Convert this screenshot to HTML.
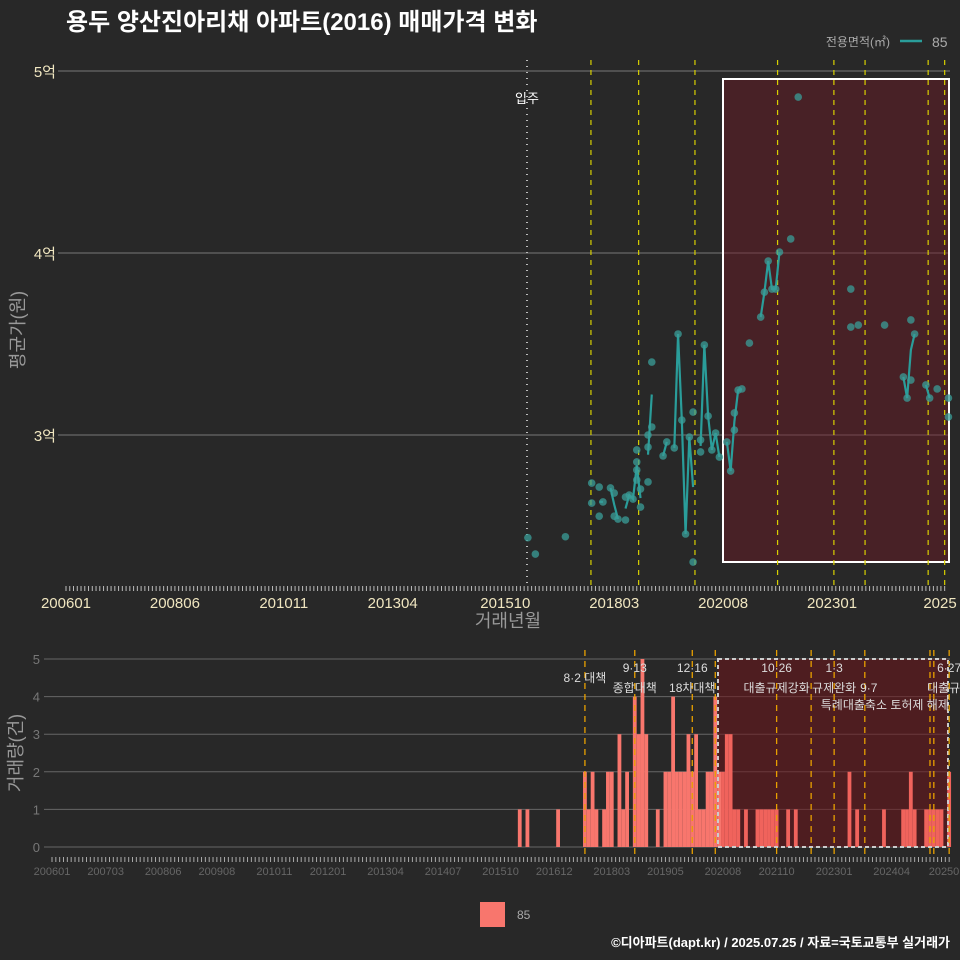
<!DOCTYPE html>
<html><head><meta charset="utf-8">
<style>
html,body{margin:0;padding:0;background:#282828;}
svg{display:block;font-family:"Liberation Sans","Noto Sans CJK KR",sans-serif;}
</style></head>
<body>
<svg id="c" width="960" height="960" viewBox="0 0 960 960" xmlns="http://www.w3.org/2000/svg">
<rect width="960" height="960" fill="#282828"/>
<text x="66" y="30" fill="#ffffff" font-size="24" font-weight="bold">용두 양산진아리채 아파트(2016) 매매가격 변화</text>
<g>
<text x="890" y="46" fill="#aaaaaa" font-size="12" text-anchor="end">전용면적(㎡)</text>
<line x1="900" y1="41" x2="922" y2="41" stroke="#2a9d9a" stroke-width="2.5"/>
<text x="932" y="47" fill="#aaaaaa" font-size="14">85</text>
</g>
<g id="topg"></g>
<g id="botg"></g>
<g>
<rect x="480" y="902" width="25" height="25" fill="#f8766d"/>
<text x="517" y="919" fill="#aaaaaa" font-size="12">85</text>
</g>
<text x="950" y="947" fill="#ffffff" font-size="13" font-weight="bold" text-anchor="end">©디아파트(dapt.kr) / 2025.07.25 / 자료=국토교통부 실거래가</text>
</svg>
<script>
// months since 2006-01, price in 만원
const priceMonths=[123,125,133,140,140,142,142,143,145,146,146,147,149,149,150,151,152,152,152,152,153,153,155,155,155,156,156,159,160,162,163,164,165,166,167,167,169,169,170,171,172,173,174,176,177,178,178,179,180,182,185,186,187,188,189,190,193,195,209,209,211,218,223,224,225,225,226,229,230,232,235,235];
const priceValues=[24360,23460,24410,27360,26260,27140,25540,26320,27090,26810,25540,25380,25330,26590,26700,26480,29180,28520,28080,27530,27030,26040,27420,29340,30000,30440,34010,28850,29620,29290,35550,30820,24560,29890,31260,23020,29730,29070,34950,31040,29180,30110,28790,29620,28020,30270,31210,32470,32530,35050,36480,37850,39560,38020,38020,40050,40770,48570,38020,35930,36040,36040,33190,32030,36320,33020,35550,32750,32030,32530,32030,30990];
const volMonths=[122,124,132,139,140,141,142,144,145,146,148,149,150,152,153,154,155,158,160,161,162,163,164,165,166,167,168,169,170,171,172,173,174,175,176,177,178,179,181,184,185,186,187,188,189,192,194,208,210,217,222,223,224,225,228,229,230,231,232,234];
const volCounts=[1,1,1,2,1,2,1,1,2,2,3,1,2,4,3,5,3,1,2,2,4,2,2,2,3,2,3,1,1,2,2,4,2,2,3,3,1,1,1,1,1,1,1,1,1,1,1,2,1,1,1,1,2,1,1,1,1,1,1,2];
const topTicks=["200601","200806","201011","201304","201510","201803","202008","202301","202506"];
const botTicks=["200601","200703","200806","200908","201011","201201","201304","201407","201510","201612","201803","201905","202008","202110","202301","202404","202507"];
const yTicks=[30000,40000,50000];
const yTickLabels=["3억","4억","5억"];
const volTicks=[0,1,2,3,4,5];
const topPolicy=[139.8,152.5,167.5,189.5,204.5,212.8,229.6,234];
const botPolicy=[139,152,167,173,189,198,204,212,229,230,234];
const policyNames=[[139,"8·2 대책",""],[152,"9·13","종합대책"],[167,"12·16","18차대책"],[189,"10·26","대출규제강화"],[204,"1·3","규제완화"],[212,"9·7","특례대출축소 토허제 해제"],[234,"6·27","대출규제"]];

const NS="http://www.w3.org/2000/svg";
function mk(p,t,a,txt){const e=document.createElementNS(NS,t);for(const k in a)e.setAttribute(k,a[k]);if(txt!=null)e.textContent=txt;p.appendChild(e);return e;}
const mIdx=s=>(parseInt(s.slice(0,4))-2006)*12+parseInt(s.slice(4,6))-1;
const xT=m=>66+m*3.755, yT=v=>435-(v-30000)/10000*182;
const xB=m=>52+m*3.834, yB=c=>847-c*37.6;
const topG=document.getElementById('topg'), botG=document.getElementById('botg');

yTicks.forEach((v,i)=>{
 let g=mk(topG,'line',{x1:58,x2:950,y1:yT(v),y2:yT(v),stroke:'#777','stroke-width':1});
 
 
 let t=mk(topG,'text',{x:56,y:yT(v)+6,fill:'#f0e6c0','font-size':15,'text-anchor':'end'},yTickLabels[i]);
 
 
});
let hr=mk(topG,'rect',{x:723,y:79,width:226,height:483,fill:'rgba(110,25,35,0.45)',stroke:'#fff','stroke-width':2});


let mv=mk(topG,'line',{x1:527,x2:527,y1:60,y2:585,stroke:'#bbb','stroke-width':2,'stroke-dasharray':'1 5'});


let mvt=mk(topG,'text',{x:527,y:103,fill:'#fff','font-size':13,'text-anchor':'middle'},'입주');


topPolicy.forEach(m=>{
 let l=mk(topG,'line',{x1:xT(m),x2:xT(m),y1:60,y2:585,stroke:'#d8d000','stroke-width':1.2,'stroke-dasharray':'5 5'});
 
 
});
for(let m=0;m<=234;m++){
 let t=mk(topG,'line',{x1:xT(m),x2:xT(m),y1:586,y2:591,stroke:'#bbb','stroke-width':1});
 
 
}
topTicks.forEach((s,i)=>{
 let last=i==topTicks.length-1;
 let t=mk(topG,'text',{x:last?940:xT(mIdx(s)),y:608,fill:'#f0e6c0','font-size':15,'text-anchor':'middle'},last?s.slice(0,4):s);
 
 
});
let xt=mk(topG,'text',{x:508,y:627,fill:'#999','font-size':18,'text-anchor':'middle'},'거래년월');


let yt=mk(topG,'text',{x:24,y:330,fill:'#999','font-size':18,'text-anchor':'middle',transform:'rotate(-90 24 330)'},'평균가(원)');


const mm={};
priceMonths.forEach((m,i)=>{(mm[m]=mm[m]||[]).push(priceValues[i]);});
const ms=Object.keys(mm).map(Number).sort((a,b)=>a-b);
let segs=[],cur=[];
ms.forEach((m,i)=>{
 if(cur.length&&m-ms[i-1]>1){segs.push(cur);cur=[];}
 const a=mm[m];cur.push([xT(m),yT(a.reduce((s,v)=>s+v,0)/a.length)]);
});
segs.push(cur);
segs.forEach(s=>{if(s.length<2)return;
 let p=mk(topG,'polyline',{points:s.map(q=>q.join(',')).join(' '),fill:'none',stroke:'#2a9d9a','stroke-width':2.2});
 
 
});
priceMonths.forEach((m,i)=>{
 let c=mk(topG,'circle',{cx:xT(m),cy:yT(priceValues[i]),r:3.8,fill:'#3a9e98','fill-opacity':0.75});
 
 
});

volTicks.forEach(v=>{
 let g=mk(botG,'line',{x1:44,x2:950,y1:yB(v),y2:yB(v),stroke:'#666','stroke-width':1});
 
 
 let t=mk(botG,'text',{x:40,y:yB(v)+5,fill:'#777','font-size':13,'text-anchor':'end'},String(v));
 
 
});
let br=mk(botG,'rect',{x:718,y:659,width:230,height:188,fill:'rgba(110,20,25,0.55)'});


volMonths.forEach((m,i)=>{
 let b=mk(botG,'rect',{x:xB(m)-1.9,y:yB(volCounts[i]),width:3.8,height:volCounts[i]*37.6,fill:m>=175?'#f0635c':'#f8766d'});
 
 
});
let bro=mk(botG,'rect',{x:718,y:659,width:230,height:188,fill:'none',stroke:'#ccc','stroke-width':2,'stroke-dasharray':'4 3'});


botPolicy.forEach(m=>{
 let l=mk(botG,'line',{x1:xB(m),x2:xB(m),y1:650,y2:858,stroke:'#e8a000','stroke-width':1.3,'stroke-dasharray':'6 5'});
 
 
});
policyNames.forEach(([m,a,b],i)=>{
 let x=xB(m);
 let y1=i==0?682:(i==5?692:672), y2=i==5?709:692;
 let t=mk(botG,'text',{x:i==5?x+4:x,y:y1,fill:'#ddd','font-size':12,'text-anchor':'middle'},a);
 
 
 if(b){let t2=mk(botG,'text',{x:i==5?x+20:x,y:y2,fill:'#ddd','font-size':12,'text-anchor':'middle'},b);
 
 }
});
for(let m=0;m<=234;m++){
 let t=mk(botG,'line',{x1:xB(m),x2:xB(m),y1:857,y2:862,stroke:'#aaa','stroke-width':1});
 
 
}
botTicks.forEach((s,i)=>{
 let last=i==botTicks.length-1;
 let t=mk(botG,'text',{x:last?944:xB(mIdx(s)),y:875,fill:'#666','font-size':11,'text-anchor':'middle'},last?s.slice(0,5):s);
 
 
});
let vt=mk(botG,'text',{x:22,y:753,fill:'#999','font-size':18,'text-anchor':'middle',transform:'rotate(-90 22 753)'},'거래량(건)');


</script>
</body></html>
